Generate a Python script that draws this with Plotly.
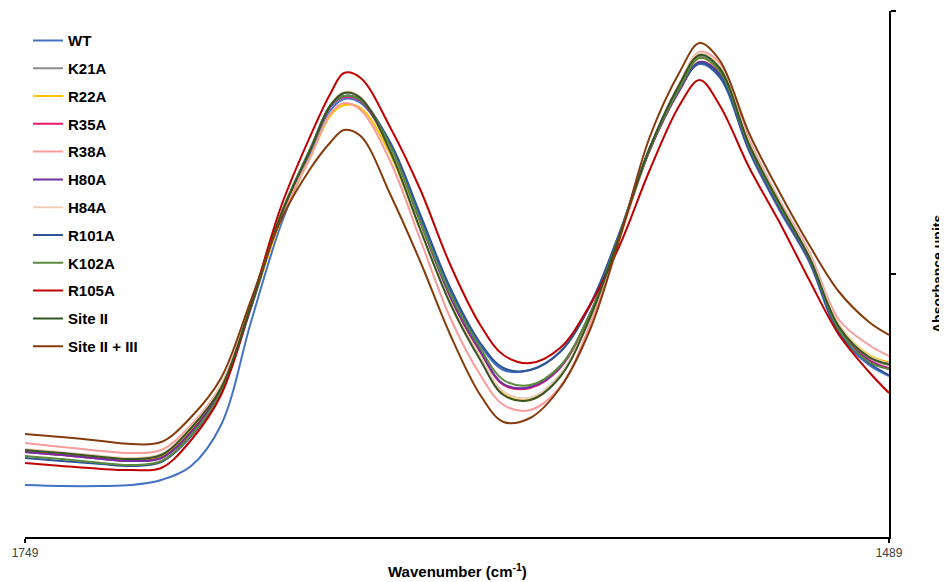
import plotly.graph_objects as go

# Wavenumber (cm-1), read along the x axis
wavenumber = [1749, 1738, 1726, 1717, 1708, 1699, 1690, 1681, 1672, 1663, 1657, 1653,
              1648, 1639, 1630, 1621, 1612, 1605, 1597, 1588, 1579, 1570, 1561, 1552,
              1546, 1540, 1531, 1522, 1513, 1504, 1495, 1489]

WT = [0.052, 0.051, 0.051, 0.052, 0.057, 0.071, 0.112, 0.215, 0.312, 0.384, 0.427, 0.438,
      0.434, 0.392, 0.319, 0.247, 0.192, 0.167, 0.167, 0.185, 0.232, 0.305, 0.389, 0.449,
      0.473, 0.460, 0.385, 0.327, 0.275, 0.202, 0.172, 0.161]
K21A = [0.087, 0.084, 0.080, 0.078, 0.082, 0.109, 0.149, 0.232, 0.322, 0.388, 0.431, 0.444,
        0.439, 0.387, 0.309, 0.235, 0.179, 0.145, 0.139, 0.162, 0.219, 0.302, 0.389, 0.452,
        0.481, 0.467, 0.391, 0.333, 0.280, 0.210, 0.179, 0.172]
R22A = [0.086, 0.083, 0.079, 0.077, 0.081, 0.107, 0.147, 0.229, 0.317, 0.381, 0.422, 0.432,
        0.429, 0.382, 0.307, 0.234, 0.179, 0.144, 0.137, 0.161, 0.219, 0.301, 0.387, 0.449,
        0.479, 0.465, 0.390, 0.332, 0.280, 0.212, 0.182, 0.175]
R35A = [0.085, 0.082, 0.078, 0.076, 0.079, 0.105, 0.147, 0.231, 0.322, 0.389, 0.431, 0.440,
        0.436, 0.387, 0.311, 0.239, 0.185, 0.152, 0.149, 0.169, 0.223, 0.303, 0.387, 0.447,
        0.475, 0.463, 0.387, 0.329, 0.277, 0.207, 0.177, 0.169]
R38A = [0.094, 0.090, 0.086, 0.084, 0.087, 0.112, 0.152, 0.232, 0.319, 0.381, 0.424, 0.434,
        0.427, 0.375, 0.297, 0.219, 0.162, 0.132, 0.127, 0.150, 0.212, 0.299, 0.387, 0.453,
        0.485, 0.474, 0.397, 0.337, 0.285, 0.217, 0.192, 0.181]
H80A = [0.085, 0.082, 0.078, 0.076, 0.079, 0.105, 0.147, 0.231, 0.322, 0.389, 0.431, 0.441,
        0.437, 0.389, 0.312, 0.240, 0.186, 0.153, 0.150, 0.170, 0.223, 0.303, 0.387, 0.447,
        0.475, 0.463, 0.387, 0.330, 0.277, 0.207, 0.176, 0.168]
H84A = [0.088, 0.085, 0.081, 0.079, 0.083, 0.110, 0.151, 0.234, 0.324, 0.390, 0.433, 0.445,
        0.440, 0.387, 0.309, 0.235, 0.179, 0.145, 0.139, 0.162, 0.219, 0.302, 0.389, 0.453,
        0.484, 0.471, 0.394, 0.335, 0.282, 0.212, 0.181, 0.174]
R101A = [0.079, 0.076, 0.073, 0.071, 0.075, 0.101, 0.144, 0.229, 0.322, 0.389, 0.432, 0.441,
         0.437, 0.394, 0.322, 0.249, 0.194, 0.169, 0.167, 0.185, 0.231, 0.305, 0.389, 0.449,
         0.474, 0.461, 0.387, 0.329, 0.277, 0.204, 0.174, 0.162]
K102A = [0.081, 0.078, 0.074, 0.072, 0.076, 0.102, 0.145, 0.231, 0.323, 0.389, 0.432, 0.441,
         0.437, 0.390, 0.315, 0.243, 0.189, 0.157, 0.152, 0.171, 0.223, 0.303, 0.388, 0.449,
         0.479, 0.466, 0.390, 0.332, 0.279, 0.207, 0.175, 0.168]
R105A = [0.074, 0.071, 0.068, 0.067, 0.069, 0.097, 0.142, 0.232, 0.330, 0.402, 0.444, 0.464,
         0.459, 0.409, 0.347, 0.272, 0.212, 0.182, 0.174, 0.189, 0.232, 0.292, 0.367, 0.432,
         0.457, 0.432, 0.369, 0.315, 0.257, 0.202, 0.165, 0.144]
SiteII = [0.087, 0.084, 0.080, 0.078, 0.082, 0.109, 0.149, 0.232, 0.322, 0.388, 0.432, 0.444,
          0.439, 0.385, 0.307, 0.233, 0.177, 0.142, 0.137, 0.160, 0.219, 0.302, 0.389, 0.453,
          0.482, 0.469, 0.392, 0.334, 0.280, 0.210, 0.180, 0.173]
SiteII_III = [0.103, 0.100, 0.096, 0.093, 0.095, 0.120, 0.159, 0.237, 0.317, 0.369, 0.395, 0.407,
              0.401, 0.342, 0.275, 0.202, 0.142, 0.115, 0.119, 0.149, 0.207, 0.299, 0.400, 0.465,
              0.494, 0.477, 0.403, 0.345, 0.292, 0.245, 0.215, 0.202]

names = ["WT", "K21A", "R22A", "R35A", "R38A", "H80A", "H84A", "R101A", "K102A", "R105A",
         "Site II", "Site II + III"]
series = [WT, K21A, R22A, R35A, R38A, H80A, H84A, R101A, K102A, R105A, SiteII, SiteII_III]
colors = ["#4472C4", "#8C8C8C", "#FFC000", "#E8186A", "#F79B9B", "#7030A0", "#F2D0B8",
          "#2F5597", "#5B8A3C", "#C00000", "#375623", "#843C0C"]

fig = go.Figure()
for n, s, c in zip(names, series, colors):
    fig.add_trace(go.Scatter(
        x=wavenumber, y=s, name=n, mode="lines", legendgroup=n,
        line=dict(color=c, width=2, shape="spline", smoothing=1.0),
    ))

# page body has an 8px margin, so the figure is sized/offset to fit the window
fig.update_layout(
    width=939, height=574,
    margin=dict(l=17, r=58, t=3, b=45),
    paper_bgcolor="white", plot_bgcolor="white",
    font=dict(family="Liberation Sans, Arial, sans-serif", color="#000000"),
    showlegend=True,
    legend=dict(x=0.0035, y=0.975, xanchor="left", yanchor="top",
                font=dict(size=15, color="#000000", weight="bold",
                          family="Liberation Sans, Arial, sans-serif"),
                tracegroupgap=5.3, bgcolor="rgba(0,0,0,0)"),
    xaxis=dict(range=[1749, 1489], tickvals=[1749, 1489], ticktext=["1749", "1489"],
               showgrid=False, zeroline=False, showline=True, linecolor="#000000", linewidth=2,
               ticks="outside", ticklen=4, tickwidth=2, tickcolor="#000000",
               tickfont=dict(size=12, color="#404040",
                             family="Liberation Sans Narrow, Liberation Sans, Arial")),
    yaxis=dict(range=[0, 0.526], side="right", tickvals=[0.263, 0.526], showticklabels=False,
               showgrid=False, zeroline=False, showline=True, linecolor="#000000", linewidth=2,
               ticks="outside", ticklen=5, tickwidth=2, tickcolor="#000000"),
    annotations=[
        dict(text="Wavenumber (cm<sup>-1</sup>)", xref="paper", yref="paper",
             x=0.5, y=-0.063, xanchor="center", yanchor="middle", showarrow=False,
             font=dict(size=15, weight="bold", color="#000000")),
        dict(text="Absorbance units", xref="paper", yref="paper", textangle=-90,
             x=1.0, xshift=49, y=0.5, xanchor="center", yanchor="middle", showarrow=False,
             font=dict(size=14, weight="bold", color="#000000")),
    ],
)

fig.write_html("out.html")
